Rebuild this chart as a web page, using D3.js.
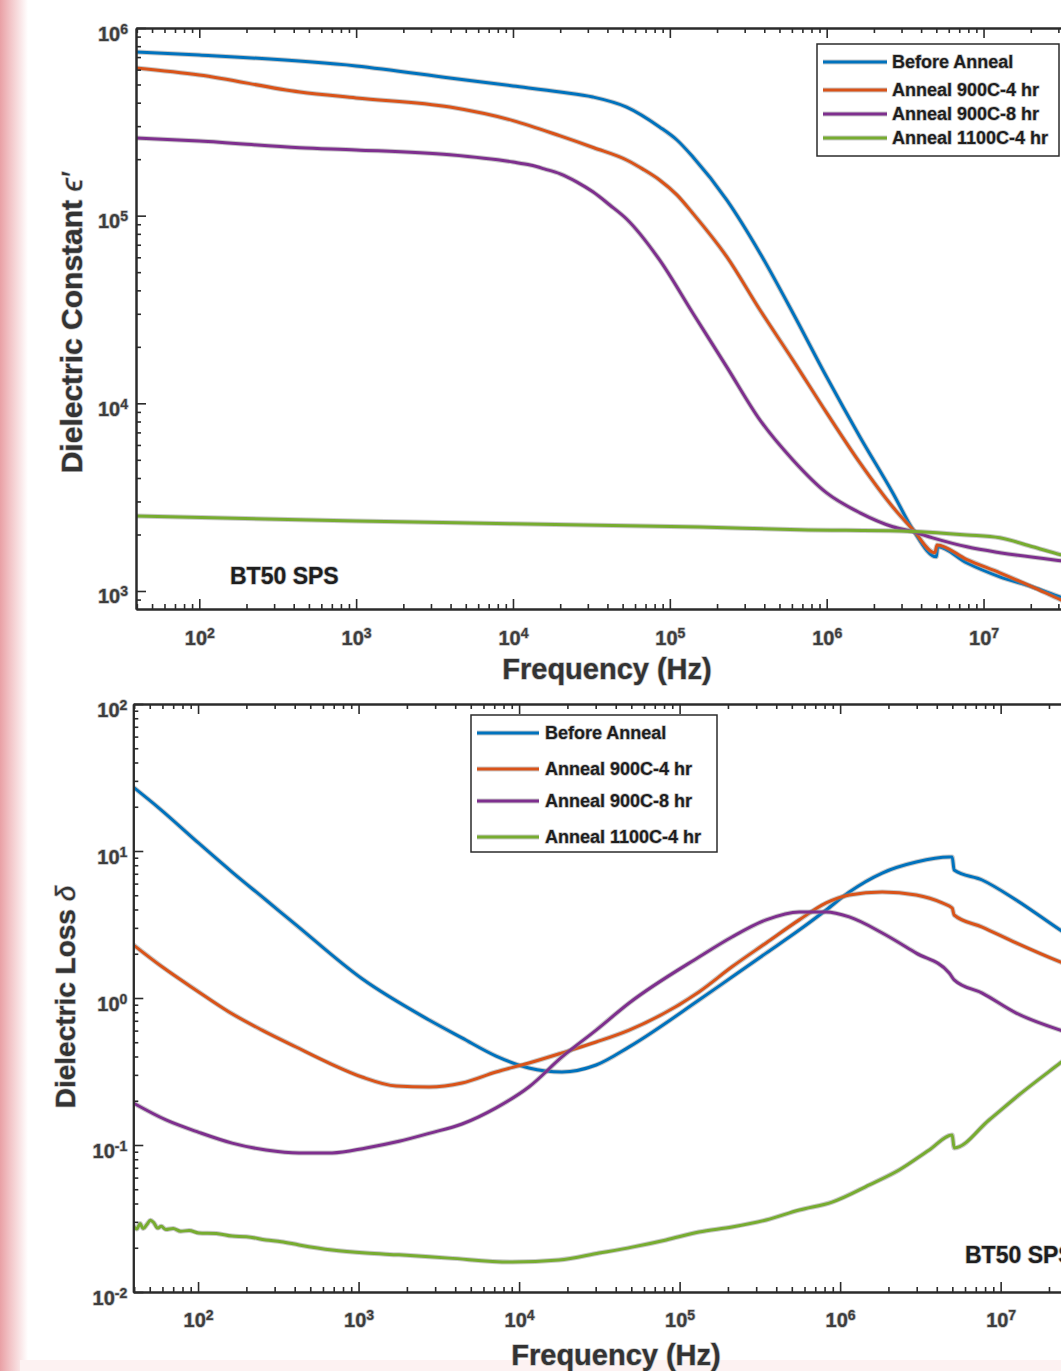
<!DOCTYPE html>
<html>
<head>
<meta charset="utf-8">
<script src="https://cdn.jsdelivr.net/npm/d3@7"></script>
<style>
  body { margin: 0; background: #fff; }
  svg { display: block; font-family: 'Liberation Sans', Arial, Helvetica, sans-serif; }
  .halo { paint-order: stroke; stroke: #c4c4c4; stroke-width: 1.6px; stroke-linejoin: round; }
</style>
</head>
<body>
<script>
const seriesNames = ['Before Anneal', 'Anneal 900C-4 hr', 'Anneal 900C-8 hr', 'Anneal 1100C-4 hr']
const seriesColors = ['#0072bd', '#d95319', '#7e2f8e', '#77ac30']

// dielectric constant, [frequency (Hz), eps']
const epsBefore = [[39.5, 7.45e5], [100, 7.18e5], [1000, 6.28e5], [3960, 5.42e5], [1e4, 4.91e5], [2e4, 4.56e5],
  [3.23e4, 4.29e5], [5.3e4, 3.79e5], [8.6e4, 2.97e5], [1.11e5, 2.53e5], [1.4e5, 2.06e5], [2.31e5, 1.21e5],
  [3.75e5, 6.33e4], [6.09e5, 3.03e4], [1.0e6, 1.38e4], [1.63e6, 6.62e3], [2.64e6, 3.33e3], [3.55e6, 2.12e3],
  [5.0e6, 1.52e3], [5.1e6, 1.72e3], [7.84e6, 1.41e3], [1.27e7, 1.19e3], [2.06e7, 1.05e3], [3.11e7, 927],
  [4.5e7, 840]]
const eps900C4 = [[39.5, 6.12e5], [100, 5.62e5], [438, 4.56e5], [1000, 4.24e5], [3960, 3.79e5], [1e4, 3.21e5],
  [2e4, 2.66e5], [3.28e4, 2.30e5], [5.3e4, 1.98e5], [6.73e4, 1.77e5], [8.6e4, 1.55e5], [1.11e5, 1.29e5],
  [1.4e5, 1.03e5], [2.31e5, 6.03e4], [3.75e5, 3.15e4], [6.09e5, 1.70e4], [1.0e6, 8.89e3], [1.63e6, 4.81e3],
  [2.64e6, 2.80e3], [3.55e6, 2.12e3], [4.9e6, 1.60e3], [5.05e6, 1.76e3], [7.84e6, 1.47e3], [1.27e7, 1.25e3],
  [2.06e7, 1.05e3], [3.11e7, 897], [4.5e7, 790]]
const eps900C8 = [[39.5, 2.59e5], [100, 2.50e5], [438, 2.30e5], [1000, 2.24e5], [3960, 2.11e5], [1e4, 1.93e5],
  [1.29e4, 1.86e5], [1.60e4, 1.77e5], [2e4, 1.67e5], [2.56e4, 1.51e5], [3.23e4, 1.34e5], [4.14e4, 1.14e5],
  [5.3e4, 9.60e4], [8.6e4, 5.81e4], [1.4e5, 3.03e4], [2.31e5, 1.56e4], [3.75e5, 8.16e3], [6.09e5, 4.99e3],
  [1.0e6, 3.33e3], [1.63e6, 2.61e3], [2.64e6, 2.20e3], [3.55e6, 2.07e3], [4.74e6, 1.92e3], [7.84e6, 1.72e3],
  [1.27e7, 1.60e3], [3.11e7, 1.45e3], [4.5e7, 1.40e3]]
const eps1100C4 = [[39.5, 2.51e3], [1000, 2.36e3], [1e4, 2.28e3], [1.55e5, 2.19e3], [6.73e5, 2.12e3],
  [2.92e6, 2.09e3], [7.84e6, 1.99e3], [1.27e7, 1.92e3], [2.06e7, 1.72e3], [3.11e7, 1.56e3], [4.5e7, 1.45e3]]

// dielectric loss, [frequency (Hz), tan delta]
const lossBefore = [[39.5, 27.2], [57.1, 19.6], [101, 11.3], [163, 7.19], [265, 4.64], [408, 3.14], [1052, 1.35],
  [2750, 0.708], [4410, 0.535], [7190, 0.403], [1.15e4, 0.334], [1.85e4, 0.314], [3.02e4, 0.350], [4.85e4, 0.465],
  [1.32e5, 0.968], [2.12e5, 1.39], [3.46e5, 2.02], [5.56e5, 2.90], [8.18e5, 3.97], [1.14e6, 5.26], [1.83e6, 7.08],
  [2.98e6, 8.41], [4.78e6, 9.10], [4.99e6, 9.10], [5.13e6, 7.43], [7.67e6, 6.35], [1.25e7, 4.64], [2.35e7, 2.90],
  [4.5e7, 1.85]]
const loss900C4 = [[39.5, 2.30], [59.7, 1.63], [97.2, 1.13], [156, 0.803], [250, 0.605], [408, 0.464], [655, 0.361],
  [1052, 0.290], [1714, 0.252], [2750, 0.248], [4410, 0.264], [7190, 0.314], [1.15e4, 0.361], [1.85e4, 0.423],
  [3.02e4, 0.502], [4.85e4, 0.605], [1.32e5, 1.10], [2.12e5, 1.63], [3.46e5, 2.37], [5.56e5, 3.40], [8.18e5, 4.43],
  [1.14e6, 5.02], [1.83e6, 5.26], [2.98e6, 5.02], [4.33e6, 4.43], [4.99e6, 4.09], [5.13e6, 3.67], [7.67e6, 3.04],
  [1.25e7, 2.37], [2.35e7, 1.76], [4.5e7, 1.35]]
const loss900C8 = [[39.5, 0.193], [63.2, 0.148], [101, 0.122], [163, 0.103], [265, 0.0925], [426, 0.0883],
  [684, 0.0883], [1114, 0.0955], [1787, 0.106], [2750, 0.120], [4410, 0.139], [7190, 0.179], [1.15e4, 0.248],
  [1.85e4, 0.397], [3.02e4, 0.605], [4.85e4, 0.925], [1.32e5, 1.90], [2.12e5, 2.60], [3.46e5, 3.40], [5.56e5, 3.85],
  [8.18e5, 3.85], [1.14e6, 3.56], [1.83e6, 2.77], [2.98e6, 2.02], [4.78e6, 1.48], [5.13e6, 1.33], [7.67e6, 1.08],
  [1.25e7, 0.790], [2.35e7, 0.605], [4.5e7, 0.50]]
const loss1100C4 = [[39.5, 0.0285], [41.5, 0.0268], [43.5, 0.0292], [45.5, 0.0270], [48, 0.0288], [50.5, 0.0308],
  [53, 0.0296], [56, 0.0272], [59, 0.0280], [63, 0.0266], [70, 0.0270], [78, 0.0259], [88, 0.0262], [101, 0.0252],
  [130, 0.0250], [163, 0.0240], [200, 0.0238], [265, 0.0226], [330, 0.0220], [426, 0.0209], [684, 0.0193],
  [1114, 0.0184], [1787, 0.0179], [3660, 0.0170], [9040, 0.0160], [1.77e4, 0.0165], [3.15e4, 0.0184],
  [5.06e4, 0.0202], [8.24e4, 0.0226], [1.32e5, 0.0256], [2.12e5, 0.0277], [3.46e5, 0.0309], [5.56e5, 0.0361],
  [8.91e5, 0.0409], [1.52e6, 0.0535], [2.33e6, 0.0676], [3.59e6, 0.0925], [4.99e6, 0.117], [5.13e6, 0.0955],
  [8.47e6, 0.148], [1.30e7, 0.219], [2.35e7, 0.361], [4.5e7, 0.62]]

const freqTicks = [1e2, 1e3, 1e4, 1e5, 1e6, 1e7]
const epsTicks = [1e3, 1e4, 1e5, 1e6]
const lossTicks = [1e-2, 1e-1, 1e0, 1e1, 1e2]

const W = 1061, H = 1371
const svg = d3.select('body').append('svg').attr('width', W).attr('height', H)

// faint pink scan edge on the left
const grad = svg.append('defs').append('linearGradient').attr('id', 'edge')
grad.append('stop').attr('offset', '0%').attr('stop-color', '#e9a0a5')
grad.append('stop').attr('offset', '35%').attr('stop-color', '#f2c3c6')
grad.append('stop').attr('offset', '100%').attr('stop-color', '#ffffff')
svg.append('rect').attr('x', 0).attr('y', 0).attr('width', 28).attr('height', H).attr('fill', 'url(#edge)')
svg.append('rect').attr('x', 20).attr('y', 1360).attr('width', W).attr('height', 11).attr('fill', '#fdf2f2')

function minorTicks(domain) {
  const out = []
  const lo = Math.floor(Math.log10(domain[0])), hi = Math.ceil(Math.log10(domain[1]))
  for (let e = lo; e <= hi; e++) {
    for (let m = 2; m <= 9; m++) {
      const v = m * Math.pow(10, e)
      if (v > domain[0] && v < domain[1]) out.push(v)
    }
  }
  return out
}

function powerLabel(sel) {
  sel.each(function(d) {
    const e = Math.round(Math.log10(d))
    const t = d3.select(this).text(null)
    t.append('tspan').text('10')
    t.append('tspan').attr('dy', '-0.5em').attr('font-size', '0.7em').text(e)
  })
}

function drawPanel(p) {
  const x = d3.scaleLog().domain(p.xDomain).range([p.left, p.right])
  const y = d3.scaleLog().domain(p.yDomain).range([p.bottom, p.top])
  const g = svg.append('g')

  g.append('clipPath').attr('id', p.id + '-clip')
    .append('rect')
    .attr('x', p.left).attr('y', p.top)
    .attr('width', p.right - p.left).attr('height', p.bottom - p.top)

  const line = d3.line()
    .x(function(d) { return x(d[0]) })
    .y(function(d) { return y(d[1]) })
    .curve(d3.curveMonotoneX)

  const plot = g.append('g').attr('clip-path', 'url(#' + p.id + '-clip)')
  p.series.forEach(function(s, i) {
    plot.append('path').datum(s)
      .attr('fill', 'none').attr('stroke', '#8a8a8a').attr('stroke-opacity', 0.45)
      .attr('stroke-width', 5).attr('stroke-linejoin', 'round').attr('d', line)
    plot.append('path').datum(s)
      .attr('fill', 'none').attr('stroke', seriesColors[i])
      .attr('stroke-width', 3).attr('stroke-linejoin', 'round').attr('d', line)
  })

  // axes, ticks pointing inward like the original
  const axisColor = '#2b2b2b'
  const styleAxis = function(sel) {
    sel.attr('font-size', null).attr('font-family', null)
    sel.selectAll('line').attr('stroke', axisColor).attr('stroke-width', 1.6)
    sel.selectAll('path').attr('stroke', axisColor).attr('stroke-width', 2)
  }
  const xMinor = minorTicks(p.xDomain), yMinor = minorTicks(p.yDomain)

  g.append('g').attr('transform', 'translate(0,' + p.bottom + ')')
    .call(d3.axisBottom(x).tickValues(xMinor).tickSize(-5).tickSizeOuter(0).tickFormat(''))
    .call(styleAxis)
  g.append('g').attr('transform', 'translate(0,' + p.top + ')')
    .call(d3.axisTop(x).tickValues(xMinor).tickSize(-5).tickSizeOuter(0).tickFormat(''))
    .call(styleAxis)
  g.append('g').attr('transform', 'translate(' + p.left + ',0)')
    .call(d3.axisLeft(y).tickValues(yMinor).tickSize(-5).tickSizeOuter(0).tickFormat(''))
    .call(styleAxis)
  g.append('g').attr('transform', 'translate(0,' + p.top + ')')
    .call(d3.axisTop(x).tickValues(freqTicks).tickSize(-10).tickSizeOuter(0).tickFormat(''))
    .call(styleAxis)

  g.append('g').attr('transform', 'translate(0,' + p.bottom + ')')
    .call(d3.axisBottom(x).tickValues(freqTicks).tickSize(-10).tickSizeOuter(0))
    .call(styleAxis)
    .call(function(a) {
      a.selectAll('.tick text')
        .attr('y', p.xLabelDy).attr('dy', null)
        .attr('font-size', 20).attr('font-weight', 'bold').attr('fill', '#3d3d3d')
        .attr('class', 'halo')
        .call(powerLabel)
    })

  g.append('g').attr('transform', 'translate(' + p.left + ',0)')
    .call(d3.axisLeft(y).tickValues(p.yTicks).tickSize(-10).tickSizeOuter(0))
    .call(styleAxis)
    .call(function(a) {
      a.selectAll('.tick text')
        .attr('x', p.yLabelDx).attr('dy', null).attr('y', 12)
        .attr('font-size', 20).attr('font-weight', 'bold').attr('fill', '#3d3d3d')
        .attr('class', 'halo')
        .call(powerLabel)
    })

  // right frame edge (falls just outside the picture)
  g.append('line').attr('x1', p.right).attr('x2', p.right).attr('y1', p.top).attr('y2', p.bottom)
    .attr('stroke', axisColor).attr('stroke-width', 2)

  // axis titles
  g.append('text').attr('class', 'halo')
    .attr('x', p.xTitle[0]).attr('y', p.xTitle[1])
    .attr('text-anchor', 'middle').attr('font-size', 29).attr('font-weight', 'bold').attr('fill', '#333')
    .text('Frequency (Hz)')
  const yt = g.append('text').attr('class', 'halo')
    .attr('transform', 'translate(' + p.yTitle[0] + ',' + p.yTitle[1] + ') rotate(-90)')
    .attr('text-anchor', 'middle').attr('font-size', p.yTitleSize).attr('font-weight', 'bold').attr('fill', '#333')
  yt.append('tspan').text(p.yTitleText[0])
  yt.append('tspan').attr('font-weight', 'normal').attr('font-style', 'italic').text(p.yTitleText[1])

  // sample tag
  g.append('text').attr('class', 'halo')
    .attr('x', p.tag[0]).attr('y', p.tag[1])
    .attr('font-size', 23).attr('font-weight', 'bold').attr('fill', '#1e1e1e')
    .text('BT50 SPS')

  // legend
  const L = p.legend
  const lg = g.append('g')
  lg.append('rect').attr('x', L.x).attr('y', L.y).attr('width', L.w).attr('height', L.h)
    .attr('fill', '#fff').attr('stroke', '#2b2b2b').attr('stroke-width', 1.5)
  seriesNames.forEach(function(name, i) {
    const ry = L.rows[i]
    lg.append('line').attr('x1', L.lineX[0]).attr('x2', L.lineX[1]).attr('y1', ry).attr('y2', ry)
      .attr('stroke', '#8a8a8a').attr('stroke-opacity', 0.45).attr('stroke-width', 5)
    lg.append('line').attr('x1', L.lineX[0]).attr('x2', L.lineX[1]).attr('y1', ry).attr('y2', ry)
      .attr('stroke', seriesColors[i]).attr('stroke-width', 3)
    lg.append('text').attr('class', 'halo')
      .attr('x', L.textX).attr('y', ry + 6)
      .attr('font-size', 18).attr('font-weight', 'bold').attr('fill', '#1e1e1e')
      .text(name)
  })
}

drawPanel({
  id: 'eps',
  left: 136, right: 1086, top: 28, bottom: 609,
  xDomain: [39.5, 4.5e7], yDomain: [801.7, 1e6],
  yTicks: epsTicks,
  series: [epsBefore, eps900C4, eps900C8, eps1100C4],
  xLabelDy: 36, yLabelDx: -8,
  xTitle: [607, 679], yTitle: [82, 323], yTitleSize: 30,
  yTitleText: ['Dielectric Constant ', 'ϵ′'],
  tag: [230, 584],
  legend: {x: 817, y: 44, w: 242, h: 112, rows: [62, 90, 114, 138], lineX: [823, 887], textX: 892}
})

drawPanel({
  id: 'loss',
  left: 133.3, right: 1105.5, top: 704, bottom: 1292,
  xDomain: [39.5, 4.5e7], yDomain: [1e-2, 1e2],
  yTicks: lossTicks,
  series: [lossBefore, loss900C4, loss900C8, loss1100C4],
  xLabelDy: 35, yLabelDx: -6,
  xTitle: [616, 1365], yTitle: [75, 997], yTitleSize: 28,
  yTitleText: ['Dielectric Loss ', 'δ'],
  tag: [965, 1263],
  legend: {x: 471, y: 715, w: 246, h: 137, rows: [733, 769, 801, 837], lineX: [477, 539], textX: 545}
})
</script>
</body>
</html>
